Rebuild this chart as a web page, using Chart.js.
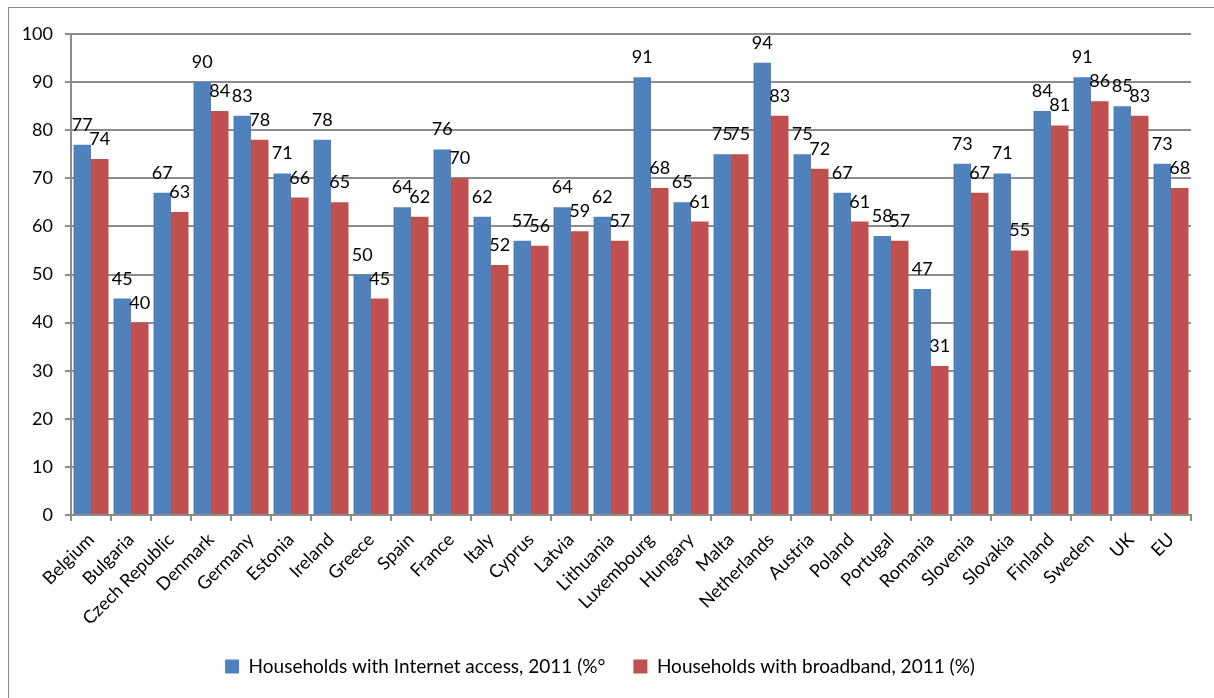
<!DOCTYPE html>
<html>
<head>
<meta charset="utf-8">
<title>Households with Internet access and broadband, 2011</title>
<script src="https://cdn.jsdelivr.net/npm/chart.js@4/dist/chart.umd.min.js"></script>
<style>
  html, body { margin: 0; padding: 0; background: #fff; overflow: hidden; }
  #frame {
    position: absolute;
    left: 8px;
    top: 7px;
    border-left: 1px solid #8a8a8a;
    border-top: 1px solid #8a8a8a;
  }
  #chart { display: block; }
</style>
</head>
<body>
<div id="frame">
  <canvas id="chart" width="1205" height="690"></canvas>
</div>
<script>
// Country shares of households, 2011
const countries = [
  "Belgium", "Bulgaria", "Czech Republic", "Denmark", "Germany", "Estonia", "Ireland",
  "Greece", "Spain", "France", "Italy", "Cyprus", "Latvia", "Lithuania", "Luxembourg",
  "Hungary", "Malta", "Netherlands", "Austria", "Poland", "Portugal", "Romania",
  "Slovenia", "Slovakia", "Finland", "Sweden", "UK", "EU"
];
const internetAccess = [77, 45, 67, 90, 83, 71, 78, 50, 64, 76, 62, 57, 64, 62, 91,
  65, 75, 94, 75, 67, 58, 47, 73, 71, 84, 91, 85, 73];
const broadband = [74, 40, 63, 84, 78, 66, 65, 45, 62, 70, 52, 56, 59, 57, 68,
  61, 75, 83, 72, 61, 57, 31, 67, 55, 81, 86, 83, 68];
const yTicks = [0, 10, 20, 30, 40, 50, 60, 70, 80, 90, 100];

const seriesNames = [
  "Households with Internet access, 2011 (%\u00b0",
  "Households with broadband, 2011 (%)"
];

const FONT = "Lato, 'Open Sans', sans-serif";
const FONT_SIZE = 18;
const LEGEND_SIZE = 19;
const GRID = "#8c8c8c";

// value printed above every bar
const barValues = {
  id: 'barValues',
  afterDatasetsDraw(chart) {
    const ctx = chart.ctx;
    ctx.save();
    ctx.font = FONT_SIZE + "px " + FONT;
    ctx.fillStyle = "#000";
    ctx.textAlign = "center";
    ctx.textBaseline = "alphabetic";
    chart.data.datasets.forEach((ds, di) => {
      const meta = chart.getDatasetMeta(di);
      meta.data.forEach((bar, i) => {
        ctx.fillText(String(ds.data[i]), bar.x, bar.y - 14);
      });
    });
    ctx.restore();
  }
};

const ctx = document.getElementById("chart").getContext("2d");
new Chart(ctx, {
  type: 'bar',
  data: {
    labels: countries,
    datasets: [
      {
        label: seriesNames[0],
        data: internetAccess,
        backgroundColor: "#4f81bd",
        categoryPercentage: 0.875,
        barPercentage: 1
      },
      {
        label: seriesNames[1],
        data: broadband,
        backgroundColor: "#c0504d",
        categoryPercentage: 0.875,
        barPercentage: 1
      }
    ]
  },
  options: {
    responsive: false,
    animation: false,
    devicePixelRatio: 1,
    layout: {
      padding: { top: 26, right: 23, bottom: 12, left: 0 }
    },
    scales: {
      x: {
        grid: {
          display: true,
          drawOnChartArea: false,
          offset: true,
          tickLength: 6,
          color: GRID,
          lineWidth: 2
        },
        border: { color: GRID, width: 2 },
        ticks: {
          color: "#000",
          font: { family: FONT, size: FONT_SIZE },
          minRotation: 45,
          maxRotation: 45,
          autoSkip: false,
          padding: 8
        },
        afterFit(scale) { scale.height = 114; }
      },
      y: {
        min: 0,
        max: 100,
        afterBuildTicks(scale) {
          scale.ticks = yTicks.map(v => ({ value: v }));
        },
        grid: {
          color: GRID,
          lineWidth: 2,
          tickLength: 6
        },
        border: { color: GRID, width: 2 },
        ticks: {
          color: "#000",
          font: { family: FONT, size: FONT_SIZE },
          padding: 12
        },
        afterFit(scale) { scale.width = 62; }
      }
    },
    plugins: {
      legend: {
        position: 'bottom',
        labels: {
          boxWidth: 14,
          boxHeight: 14,
          padding: 28,
          color: "#000",
          font: { family: FONT, size: LEGEND_SIZE }
        }
      },
      tooltip: { enabled: true }
    }
  },
  plugins: [barValues]
});
</script>
</body>
</html>
